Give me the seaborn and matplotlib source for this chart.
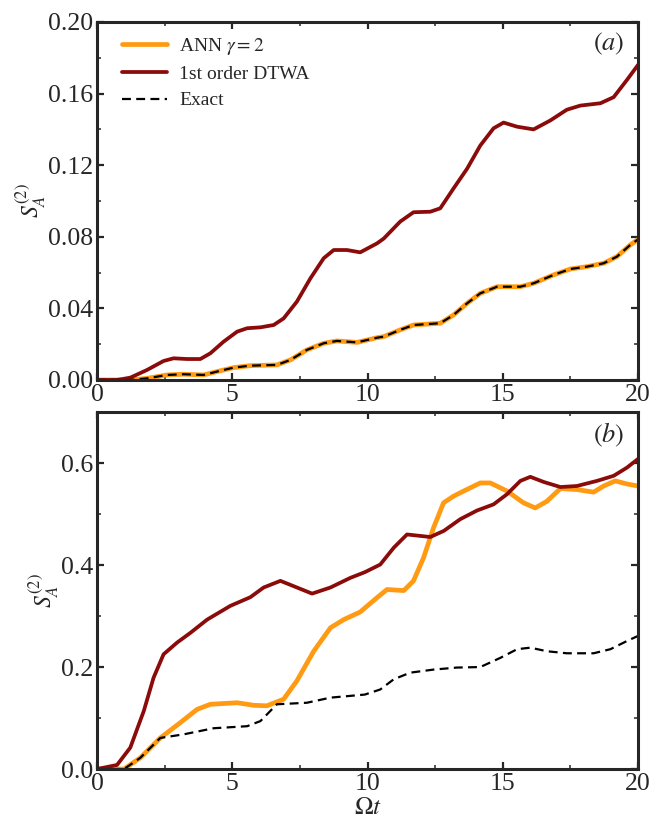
import matplotlib
matplotlib.use('Agg')

import seaborn as sns
import matplotlib.pyplot as plt
from matplotlib.ticker import MultipleLocator

# panel (a): values
t_a_dtwa = [0, 0.74, 1.23, 1.85, 2.46, 2.83, 3.33, 3.82, 4.19, 4.68, 5.18, 5.55, 6.04, 6.53,
            6.9, 7.39, 7.89, 8.38, 8.75, 9.24, 9.73, 10.35, 10.6, 11.21, 11.7, 12.32, 12.69,
            13.18, 13.68, 14.17, 14.66, 15.03, 15.53, 16.14, 16.76, 17.37, 17.87, 18.61,
            19.1, 19.59, 20]
s_a_dtwa = [0, 0, 0.0013, 0.0056, 0.0106, 0.0121, 0.0117, 0.0117, 0.0149, 0.0214, 0.027,
            0.0289, 0.0294, 0.0307, 0.0344, 0.0438, 0.0568, 0.068, 0.0726, 0.0726, 0.0713,
            0.0763, 0.079, 0.0885, 0.0937, 0.094, 0.0959, 0.107, 0.118, 0.131, 0.1406,
            0.1438, 0.1415, 0.140, 0.145, 0.151, 0.1533, 0.1546, 0.158, 0.1676, 0.176]

t_a_ann = [0, 1.23, 1.85, 2.59, 3.2, 3.94, 4.44, 5.05, 5.67, 6.65, 7.15, 7.76, 8.38, 8.87,
           9.61, 10.35, 10.6, 11.21, 11.7, 12.69, 13.18, 13.68, 14.17, 14.79, 15.65, 16.14,
           16.88, 17.5, 18.11, 18.73, 19.22, 19.71, 20]
s_a_ann = [0, 0, 0.0009, 0.0028, 0.0032, 0.0028, 0.0047, 0.0069, 0.008, 0.0084, 0.0112,
           0.0168, 0.0205, 0.0218, 0.021, 0.0236, 0.0242, 0.028, 0.0307, 0.0317, 0.0363,
           0.0428, 0.0484, 0.0521, 0.0521, 0.054, 0.0587, 0.062, 0.0633, 0.0652, 0.0689,
           0.0754, 0.0785]
s_a_exact = s_a_ann

# panel (b)
t_b_dtwa = [0, 0.74, 1.23, 1.73, 2.09, 2.46, 2.96, 3.45, 4.07, 4.93, 5.67, 6.16, 6.78, 7.39,
            7.95, 8.63, 9.37, 9.9, 10.47, 10.97, 11.46, 12.32, 12.82, 13.43, 14.05, 14.66,
            15.16, 15.65, 16.02, 16.51, 17.13, 17.74, 18.48, 19.1, 19.59, 20]
s_b_dtwa = [0, 0.008, 0.042, 0.114, 0.179, 0.225, 0.248, 0.267, 0.293, 0.320, 0.337, 0.356,
            0.369, 0.356, 0.344, 0.356, 0.375, 0.386, 0.401, 0.434, 0.460, 0.455, 0.467,
            0.490, 0.507, 0.519, 0.539, 0.565, 0.573, 0.563, 0.553, 0.555, 0.565, 0.575,
            0.591, 0.608]

t_b_ann = [0, 1.0, 1.6, 2.34, 3.08, 3.7, 4.19, 5.18, 5.79, 6.28, 6.9, 7.39, 8.01, 8.63, 9.12,
           9.73, 10.35, 10.72, 11.34, 11.7, 12.07, 12.44, 12.81, 13.18, 13.55, 14.17, 14.54,
           15.16, 15.77, 16.2, 16.63, 17.13, 17.74, 18.36, 18.73, 19.16, 19.59, 20]
s_b_ann = [0, 0, 0.022, 0.061, 0.091, 0.117, 0.127, 0.130, 0.125, 0.124, 0.137, 0.173, 0.231,
           0.277, 0.293, 0.308, 0.336, 0.352, 0.350, 0.369, 0.414, 0.473, 0.522, 0.535,
           0.545, 0.561, 0.561, 0.545, 0.522, 0.512, 0.525, 0.550, 0.548, 0.543, 0.555,
           0.565, 0.559, 0.555]

t_b_exact = [0, 1.0, 1.6, 2.34, 3.2, 4.31, 5.55, 6.04, 6.65, 7.76, 8.63, 9.9, 10.47, 10.97,
             11.58, 12.44, 13.31, 14.17, 14.91, 15.53, 16.02, 16.63, 17.37, 18.36, 18.98,
             19.59, 20]
s_b_exact = [0, 0, 0.022, 0.061, 0.068, 0.080, 0.084, 0.094, 0.127, 0.130, 0.140, 0.146,
             0.156, 0.176, 0.189, 0.195, 0.199, 0.200, 0.218, 0.235, 0.238, 0.231, 0.227,
             0.227, 0.235, 0.251, 0.261]

ORANGE = '#FF9A12'
DARKRED = '#8B0A0A'
DASH = (0, (4, 2.4))

sns.set_style('ticks')
plt.rcParams['font.family'] = ['Liberation Serif', 'DejaVu Serif']
plt.rcParams['mathtext.fontset'] = 'stix'

fig = plt.figure(figsize=(6.65, 8.36), dpi=100)
ax_a = fig.add_axes([0.1459, 0.5455, 0.8135, 0.4282])
ax_b = fig.add_axes([0.1459, 0.0801, 0.8135, 0.4270])

# (a)
sns.lineplot(x=t_a_ann, y=s_a_ann, ax=ax_a, color=ORANGE, lw=3.4, label=r'ANN $\gamma=2$')
sns.lineplot(x=t_a_dtwa, y=s_a_dtwa, ax=ax_a, color=DARKRED, lw=2.7, label='1st order DTWA')
sns.lineplot(x=t_a_ann, y=s_a_exact, ax=ax_a, color='black', lw=1.6, ls=DASH, label='Exact')

# (b)
sns.lineplot(x=t_b_ann, y=s_b_ann, ax=ax_b, color=ORANGE, lw=3.4)
sns.lineplot(x=t_b_dtwa, y=s_b_dtwa, ax=ax_b, color=DARKRED, lw=2.7)
sns.lineplot(x=t_b_exact, y=s_b_exact, ax=ax_b, color='black', lw=1.6, ls=DASH)

ax_a.set_ylim(0, 0.2)
ax_a.yaxis.set_major_locator(MultipleLocator(0.04))
ax_a.yaxis.set_minor_locator(MultipleLocator(0.02))
ax_a.set_yticklabels([f'{v:.2f}' for v in ax_a.get_yticks()])
ax_b.set_ylim(0, 0.7)
ax_b.yaxis.set_major_locator(MultipleLocator(0.2))
ax_b.yaxis.set_minor_locator(MultipleLocator(0.1))

for ax, tag in ((ax_a, 'a'), (ax_b, 'b')):
    ax.set_xlim(0, 20)
    ax.xaxis.set_major_locator(MultipleLocator(5))
    ax.xaxis.set_minor_locator(MultipleLocator(2.5))
    ax.tick_params(which='both', direction='in', top=True, right=True, width=1.6,
                   labelsize=18.5, pad=3)
    ax.tick_params(which='major', length=5)
    ax.tick_params(which='minor', length=3, width=1.1)
    for sp in ax.spines.values():
        sp.set_linewidth(2.2)
    ax.set_ylabel(r'$S_A^{(2)}$', fontsize=17, labelpad=0)
    ax.text(0.975, 0.975, rf'$({tag})$', transform=ax.transAxes, ha='right', va='top',
            fontsize=19)

ax_b.set_xlabel(r'$\Omega t$', fontsize=18, labelpad=1)

ax_a.legend(loc='upper left', bbox_to_anchor=(0.046, 0.962), frameon=False, fontsize=14,
            handlelength=2.3, handletextpad=0.65, borderaxespad=0, borderpad=0,
            labelspacing=0.45)

fig.savefig('out.png', dpi=100)
plt.close('all')
